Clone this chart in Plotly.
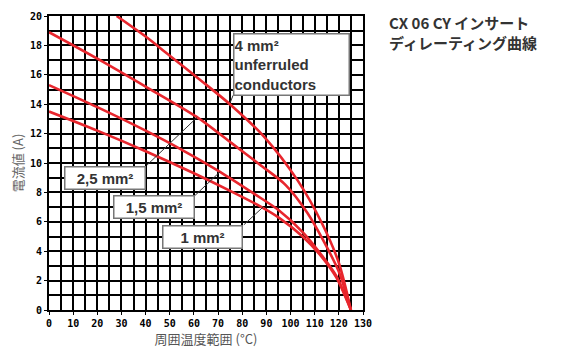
import plotly.graph_objects as go

# derating curves: (ambient temperature °C, current A)
t_4mm = [28, 40, 50, 63, 75.6, 89, 103, 113, 120, 125]
i_4mm = [20, 18.6, 17.3, 15.6, 13.9, 11.8, 8.8, 5.9, 3.2, 0]

t_25mm = [0, 20, 40, 61, 75.6, 88, 98, 107, 114, 120, 125]
i_25mm = [18.9, 17.1, 15.2, 13.15, 11.35, 9.8, 8.5, 6.6, 4.6, 2.6, 0]

t_15mm = [0, 20, 40, 55, 70.8, 85, 95, 105, 113, 119, 125]
i_15mm = [15.3, 13.8, 12.2, 10.9, 9.4, 7.9, 6.8, 5.3, 3.7, 2.3, 0]

t_1mm = [0, 20, 40, 60, 75, 88, 95, 105, 113, 119, 125]
i_1mm = [13.5, 12.2, 10.8, 9.3, 8.1, 7.0, 6.3, 5.0, 3.6, 2.2, 0]

curves = [(t_4mm, i_4mm), (t_25mm, i_25mm), (t_15mm, i_15mm), (t_1mm, i_1mm)]

x_ticks = list(range(0, 131, 10))
y_ticks = list(range(0, 21, 2))

RED = '#e8262d'
TXT = '#333333'

fig = go.Figure()
for t, i in curves:
    fig.add_trace(go.Scatter(x=t, y=i, mode='lines', line=dict(color=RED, width=2.6, shape='spline', smoothing=0.8),
                             showlegend=False, hoverinfo='skip'))

# leader lines from label boxes to curves
leaders = [((40.6, 9.86), (61.3, 13.1)), ((60.5, 7.8), (70.8, 9.4)), ((80.7, 5.8), (88.6, 7.0)),
           ((76.2, 14.6), (75.0, 14.1))]
for (x0, y0), (x1, y1) in leaders:
    fig.add_shape(type='line', x0=x0, y0=y0, x1=x1, y1=y1, line=dict(color='#333333', width=1))

box_font = dict(family='Liberation Sans, Arial', size=15, color=TXT)
labels = [
    ('<b>2,5 mm²</b>', 23.0, 9.0, 79, 21, 'center'),
    ('<b>1,5 mm²</b>', 43.3, 7.04, 79, 21, 'center'),
    ('<b>1 mm²</b>', 63.4, 5.0, 78, 21, 'center'),
    ('<b>4 mm²<br>unferruled<br>conductors</b>', 100.4, 16.7, 114, 60, 'left'),
]
for text, x, y, w, h, al in labels:
    fig.add_annotation(x=x, y=y, text=text, showarrow=False, font=box_font, bgcolor='white',
                       bordercolor='#777777', borderwidth=1.5, borderpad=0, width=w, height=h, align=al)

fig.add_annotation(xref='paper', yref='paper', x=1.075, y=1.02, xanchor='left', yanchor='top',
                   text='<b>CX 06 CY インサート<br>ディレーティング曲線</b>', showarrow=False, align='left',
                   font=dict(family='Noto Sans CJK JP', size=15, color=TXT))

tick_font = dict(family='DejaVu Sans Mono', size=10, color='black', weight=700)
fig.update_xaxes(range=[0, 130], tickvals=x_ticks, showgrid=True, gridcolor='black', gridwidth=1.5,
                 minor=dict(dtick=5, showgrid=True, gridcolor='black', gridwidth=1.5),
                 showline=True, linecolor='black', linewidth=2, mirror=True, ticks='outside', ticklen=3,
                 tickcolor='black', tickfont=tick_font, zeroline=False, automargin=False,
                 title=dict(text='周囲温度範囲 (°C)', standoff=6,
                            font=dict(family='Noto Sans CJK JP', size=13, color='#555555')))
fig.update_yaxes(range=[0, 20], tickvals=y_ticks, showgrid=True, gridcolor='black', gridwidth=1.5,
                 minor=dict(dtick=1, showgrid=True, gridcolor='black', gridwidth=1.5),
                 showline=True, linecolor='black', linewidth=2, mirror=True, ticks='outside', ticklen=3,
                 tickcolor='black', tickfont=tick_font, zeroline=False, automargin=False,
                 title=dict(text='電流値 (A)', standoff=4,
                            font=dict(family='Noto Sans CJK JP', size=13, color='#666666')))
# page body adds an 8px offset, so the figure is sized to fill the rest of the window
fig.update_layout(width=562, height=341, margin=dict(l=41, r=207, t=8, b=39),
                  plot_bgcolor='white', paper_bgcolor='white')
fig.write_html('out.html')
